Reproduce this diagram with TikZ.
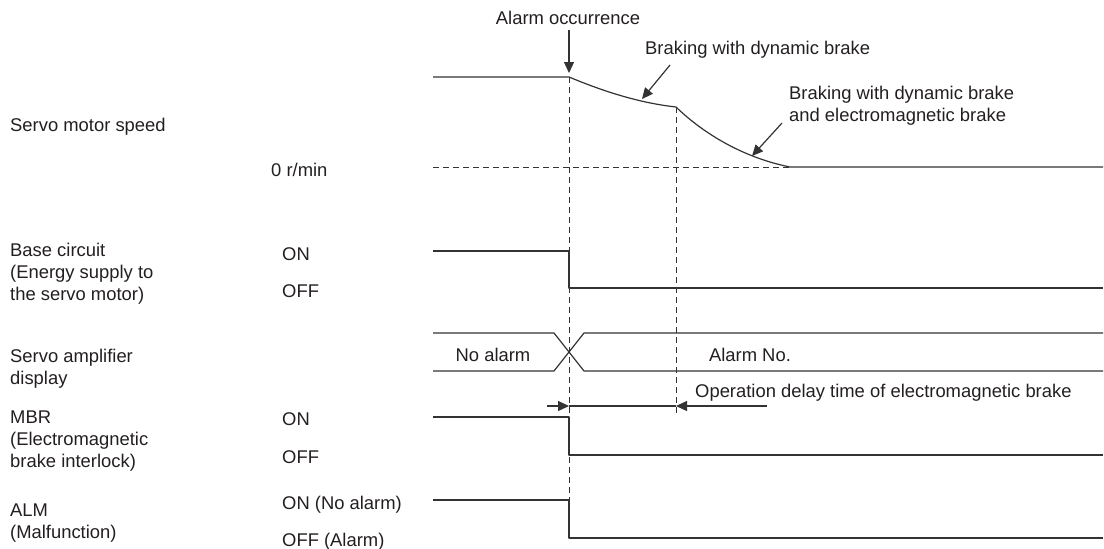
\documentclass[tikz,border=0pt]{standalone}
\usepackage{fontspec}
\setmainfont{Liberation Sans}
\usetikzlibrary{arrows.meta}
\definecolor{ink}{HTML}{231F20}
\definecolor{wave}{HTML}{333333}
\tikzset{fig/.style={x=1pt,y=-1pt,line join=round,>={Triangle[length=11pt,width=10pt]}},
 sig/.style={wave,line width=1.2pt},
 guide/.style={wave,line width=0.9pt,dash pattern=on 6pt off 4pt},
 lab/.style={ink,anchor=base west,align=left,inner sep=0pt,font=\fontsize{18.4}{22}\selectfont}}

\begin{document}
\begin{tikzpicture}[fig]
 \useasboundingbox (0,0) rectangle (1104,549);
 % signal names (base = last line)
 \node[lab] (spd) at (10,131) {Servo motor speed};
 \node[lab] (base) at (10,300) {Base circuit\\(Energy supply to\\the servo motor)};
 \node[lab] (disp) at (10,384) {Servo amplifier\\display};
 \node[lab] (mbr) at (10,467) {MBR\\(Electromagnetic\\brake interlock)};
 \node[lab] (alm) at (10,538) {ALM\\(Malfunction)};
 % levels
 \node[lab] (zero) at (271,176) {0 r/min};
 \node[lab] (bon) at (282,260) {ON};\node[lab] (boff) at (282,297) {OFF};
 \node[lab] (mon) at (282,425) {ON};\node[lab] (moff) at (282,463) {OFF};
 \node[lab] (aon) at (282,509) {ON (No alarm)};\node[lab] (aoff) at (282,546) {OFF (Alarm)};
 % key points
 \coordinate (s1) at (569,77);\coordinate (s2) at (676,107);\coordinate (s3) at (790,167);
 \coordinate (a1) at (569,73);\coordinate (b1) at (642,99);\coordinate (b2) at (752,156);
 \coordinate (d1) at (569,406);\coordinate (d2) at (676,406);
 % speed
 \draw[guide] (433,167) -- (s3);
 \draw[sig] (433,77) -- (s1) .. controls (605,92) and (640,103) .. (s2)
   .. controls (705,135) and (745,158) .. (s3) -- (1103,167);
 \draw[guide] (s1) -- (569,500);\draw[guide] (s2) -- (676,414);
 % base circuit
 \draw[sig] (433,251) -- (569,251) -- (569,288) -- (1103,288);
 % display
 \draw[sig] (433,333) -- (554,333) -- (584,371) -- (1103,371);
 \draw[sig] (433,371) -- (554,371) -- (584,333) -- (1103,333);
 \node[lab,anchor=base] (noal) at (493,361) {No alarm};
 \node[lab,anchor=base] (alno) at (750,361) {Alarm No.};
 % MBR and ALM
 \draw[sig] (433,417) -- (569,417) -- (569,455) -- (1103,455);
 \draw[sig] (433,500) -- (569,500) -- (569,538) -- (1103,538);
 % annotations
 \node[lab,anchor=base] (occ) at (568,24) {Alarm occurrence};
 \draw[sig,->] ([yshift=-6pt]occ.south -| a1) -- (a1);
 \node[lab] (brk1) at (645,54) {Braking with dynamic brake};
 \draw[sig,->] ([shift={(25,7)}]brk1.south west) -- (b1);
 \node[lab] (brk2) at (789,121) {Braking with dynamic brake\\and electromagnetic brake};
 \draw[sig,->] ([shift={(-7,-2)}]brk2.south west) -- (b2);
 \node[lab] (dly) at (695,397) {Operation delay time of electromagnetic brake};
 \draw[sig,->] (547,406) -- (d1);\draw[sig] (d1) -- (d2);\draw[sig,->] (767,406) -- (d2);
\end{tikzpicture}
\end{document}
